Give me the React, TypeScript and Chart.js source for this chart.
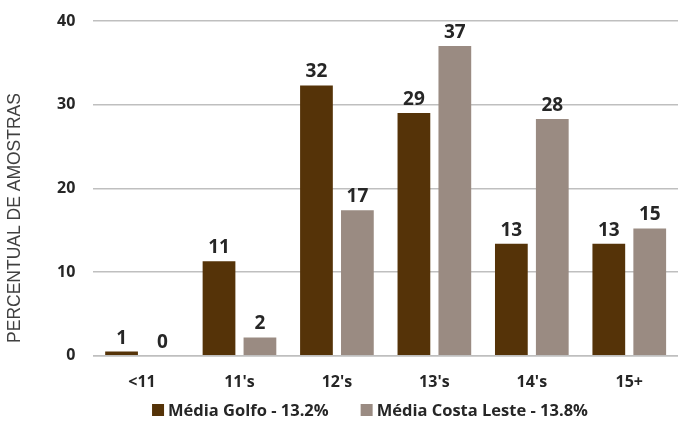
import React, { useEffect, useRef } from "react";
import { Chart, registerables } from "chart.js";

Chart.register(...registerables);

const categories = ["<11", "11's", "12's", "13's", "14's", "15+"];
const golfoValues = [0.5, 11.3, 32.3, 29.0, 13.4, 13.4];
const costaValues = [0, 2.2, 17.4, 37.0, 28.3, 15.2];
const seriesNames = ["Média Golfo - 13.2%", "Média Costa Leste - 13.8%"];
const seriesColors = ["#553308", "#9a8b82"];
const yTitle = "PERCENTUAL DE AMOSTRAS";

const labelPlugin = {
  id: "barLabels",
  afterDatasetsDraw(chart: any) {
    const ctx = chart.ctx;
    ctx.save();
    ctx.font = "bold 19px 'Open Sans', sans-serif";
    ctx.fillStyle = "#262626";
    ctx.textAlign = "center";
    ctx.textBaseline = "bottom";
    chart.data.datasets.forEach((ds: any, di: number) => {
      const meta = chart.getDatasetMeta(di);
      meta.data.forEach((el: any, i: number) => {
        const v = ds.data[i];
        ctx.fillText(String(Math.round(v)), el.x, el.y - 4);
      });
    });
    ctx.restore();
  },
};

const titlePlugin = {
  id: "yTitle",
  afterDraw(chart: any) {
    const ctx = chart.ctx;
    ctx.save();
    ctx.font = "17.5px 'Liberation Sans', Arial, sans-serif";
    ctx.fillStyle = "#404040";
    ctx.textAlign = "center";
    ctx.textBaseline = "middle";
    ctx.translate(15, 218);
    ctx.rotate(-Math.PI / 2);
    ctx.fillText(yTitle, 0, 0);
    ctx.restore();
  },
};

const legendPlugin = {
  id: "customLegend",
  afterDraw(chart: any) {
    const ctx = chart.ctx;
    ctx.save();
    ctx.font = "bold 16.5px 'Open Sans', sans-serif";
    ctx.textBaseline = "middle";
    ctx.textAlign = "left";
    const box = 12;
    const gapText = 4;
    const gapItem = 32;
    const items = chart.data.datasets.map((ds: any) => ({
      label: ds.label,
      color: ds.backgroundColor,
      w: ctx.measureText(ds.label).width,
    }));
    const total =
      items.reduce((s: number, it: any) => s + box + gapText + it.w, 0) +
      gapItem * (items.length - 1);
    let x = 370 - total / 2;
    const y = chart.height - 16;
    items.forEach((it: any) => {
      ctx.fillStyle = it.color;
      ctx.fillRect(x, y - box / 2, box, box);
      x += box + gapText;
      ctx.fillStyle = "#262626";
      ctx.fillText(it.label, x, y + 1);
      x += it.w + gapItem;
    });
    ctx.restore();
  },
};

export default function App() {
  const ref = useRef<HTMLCanvasElement>(null);
  useEffect(() => {
    document.body.style.margin = "0";
    const chart = new Chart(ref.current!, {
      type: "bar",
      data: {
        labels: categories,
        datasets: [
          {
            label: seriesNames[0],
            data: golfoValues,
            backgroundColor: seriesColors[0],
            categoryPercentage: 0.84,
            barPercentage: 0.8,
          },
          {
            label: seriesNames[1],
            data: costaValues,
            backgroundColor: seriesColors[1],
            categoryPercentage: 0.84,
            barPercentage: 0.8,
          },
        ],
      },
      options: {
        animation: false,
        responsive: false,
        maintainAspectRatio: false,
        layout: { padding: { top: 21, right: 0, left: 39, bottom: 17 } },
        scales: {
          x: {
            grid: { display: false, drawTicks: false },
            border: { display: true, color: "#bfbfbf", width: 1.5 },
            ticks: {
              color: "#262626",
              font: { family: "'Open Sans', sans-serif", size: 16, weight: "bold" },
              padding: 17,
            },
          },
          y: {
            min: 0,
            max: 40,
            afterFit: (scale: any) => {
              scale.paddingTop = 0;
            },
            ticks: {
              stepSize: 10,
              color: "#262626",
              font: { family: "'Open Sans', sans-serif", size: 16, weight: "bold" },
              padding: 18,
            },
            grid: { color: "#bfbfbf", lineWidth: 1.5, drawTicks: false },
            border: { display: false },
            title: { display: false },
          },
        },
        plugins: {
          legend: { display: false },
          tooltip: { enabled: false },
        },
      },
      plugins: [labelPlugin, titlePlugin, legendPlugin],
    } as any);
    return () => chart.destroy();
  }, []);
  return <canvas ref={ref} width={678} height={426} style={{ display: "block" }} />;
}
